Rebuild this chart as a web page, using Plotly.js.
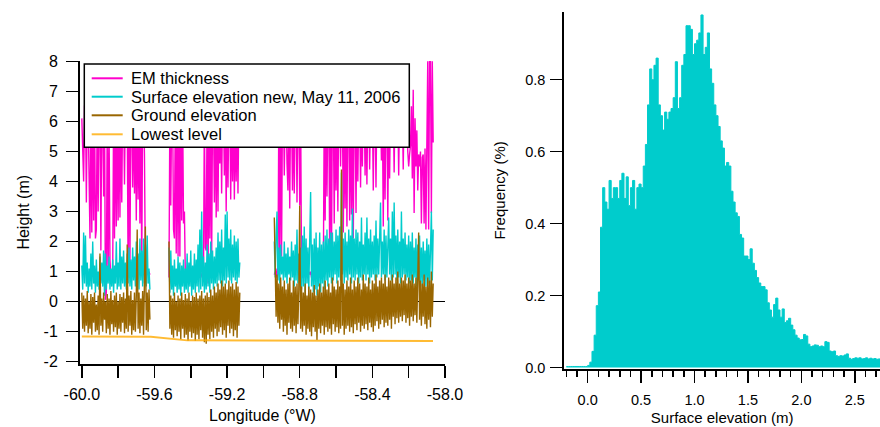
<!DOCTYPE html>
<html>
<head>
<meta charset="utf-8">
<script src="https://cdn.plot.ly/plotly-3.0.1.min.js"></script>
<style>
html,body{margin:0;padding:0;background:#fff;}
#chart{width:880px;height:427px;}
</style>
</head>
<body>
<div id="chart"></div>
<script>
// ---------------- DATA ----------------
// Along-track samples: three flight segments, regular longitude sampling
const segmentStartLon = [-60.0, -59.52, -58.94];
const sampleStepLon = 0.005;

// EM thickness (m)
const emThicknessSeg1 = [
  6.1,5.2,4.0,6.5,6.8,3.3,6.6,6.2,4.4,2.1,
  6.7,2.3,6.5,2.7,6.9,2.1,2.4,6.6,3.0,6.4,
  6.8,1.7,6.5,6.2,3.5,6.6,0.06,0.3,6.3,0.7,
  5.9,1.4,0.8,0.9,0.8,6.4,2.1,6.7,2.5,6.5,
  2.7,6.8,2.8,6.4,3.3,6.7,6.5,3.9,6.6,6.2,
  6.4,0.8,6.5,1.2,6.7,6.3,3.8,6.6,3.6,6.4,
  2.7,6.8,3.4,6.5,2.6,6.6,1.1,6.4,6.7,4.9,
  1.0,0.9,1.0,0.9,1.0,0.9
];
const emThicknessSeg2 = [
  0.8,6.5,3.2,6.7,6.4,2.4,2.1,6.6,1.6,6.5,
  1.5,6.8,1.5,6.4,2.7,6.6,2.6,3.0,0.9,0.8,
  0.7,0.9,0.8,1.0,0.7,0.9,0.8,1.0,0.9,0.8,
  0.9,1.0,0.8,0.9,1.0,0.8,0.9,1.0,0.8,6.5,
  1.8,1.7,6.6,0.6,6.4,2.1,6.7,1.3,6.5,6.3,
  3.3,6.6,2.8,6.4,3.0,6.8,4.6,6.5,3.6,6.6,
  6.4,4.2,6.7,3.0,6.5,3.8,6.6,6.4,3.4,6.5,
  4.0,6.7,3.4,6.4,4.0,6.6,3.6,6.5,5.2
];
const emThicknessSeg3 = [
  0.9,1.0,0.8,1.1,0.9,6.4,1.4,6.6,1.5,6.5,
  6.7,4.2,6.4,6.6,4.6,3.7,6.5,3.1,6.7,6.4,
  3.7,6.6,3.6,6.5,6.8,3.3,6.4,6.6,3.2,6.5,
  1.0,0.8,0.9,1.1,0.8,1.0,0.9,0.8,1.0,0.9,
  1.0,0.8,0.9,1.0,0.8,0.9,1.1,0.8,1.0,0.9,
  0.8,1.0,0.9,1.0,0.9,6.5,2.7,6.7,3.5,6.4,
  6.6,1.45,6.5,1.5,6.7,6.4,2.6,6.6,3.7,6.5,
  3.0,6.8,6.4,4.5,6.6,6.5,2.3,6.7,3.1,6.4,
  2.5,6.6,6.5,2.7,6.7,2.9,6.4,2.1,6.6,6.5,
  2.95,6.7,4.0,6.4,6.6,3.8,6.5,4.5,6.7,6.4,
  4.2,6.6,3.9,6.5,6.7,4.4,6.4,6.6,6.5,3.7,
  6.7,6.4,3.8,6.6,6.5,6.7,6.4,6.6,4.7,6.5,
  2.5,6.7,3.4,6.4,6.6,2.7,6.5,4.1,6.7,6.4,
  6.6,6.5,4.3,6.7,6.4,6.6,6.5,4.2,6.7,6.4,
  6.6,6.5,4.4,6.7,6.4,6.6,6.2,5.0,4.5,4.9,
  5.2,6.5,4.1,7.05,2.95,6.1,4.5,5.7,3.7,4.9,
  4.5,5.0,2.6,4.8,4.9,2.6,5.1,2.4,4.9,8.0,
  2.4,8.0,8.0,2.95,8.0,5.3
];

// Surface elevation new, May 11, 2006 (m)
const surfaceElevSeg1 = [
  1.2,0.4,2.3,0.6,2.2,0.5,1.3,0.3,1.1,0.5,
  1.6,0.4,2.0,0.6,1.2,0.3,1.4,0.5,1.0,0.4,
  1.5,0.6,1.3,0.5,1.7,0.2,1.6,0.4,1.2,0.6,
  1.5,0.4,1.1,0.5,1.4,0.3,1.2,0.6,2.0,0.4,
  1.3,0.5,2.1,0.4,1.5,0.6,1.7,0.5,1.3,0.4,
  1.6,0.6,1.8,0.5,1.4,0.4,1.8,0.7,1.5,0.5,
  2.0,0.6,1.6,0.4,2.1,0.7,1.7,0.5,2.1,0.6,
  1.9,0.5,2.2,0.6,1.1,0.4
];
const surfaceElevSeg2 = [
  1.8,0.3,1.7,0.4,1.2,0.2,1.4,0.5,1.1,0.3,
  1.5,0.4,1.3,0.2,1.2,0.5,1.4,0.3,1.1,0.4,
  1.6,0.3,1.3,0.5,1.7,0.2,1.2,0.4,1.6,0.3,
  1.4,0.5,1.9,0.3,2.4,0.4,3.0,0.5,1.5,0.3,
  1.3,0.4,1.9,0.5,1.6,0.3,2.0,0.6,1.7,0.4,
  1.5,0.6,1.8,0.5,2.3,0.7,2.0,0.6,2.4,0.5,
  1.8,0.7,2.9,0.6,3.0,0.8,2.1,0.7,2.4,0.6,
  1.9,0.8,2.2,0.7,2.0,0.6,2.1,0.8,1.3
];
const surfaceElevSeg3 = [
  2.0,0.8,2.2,3.0,0.7,1.8,0.6,1.9,0.9,1.5,
  0.7,2.0,0.8,1.6,0.6,1.8,0.9,1.5,0.7,2.0,
  0.8,1.7,0.5,1.9,0.7,2.4,0.6,1.6,0.8,1.8,
  0.4,2.2,0.5,2.5,0.3,2.1,0.6,1.8,0.4,2.3,
  3.65,0.5,1.9,0.3,2.1,0.4,2.3,0.2,1.8,0.5,
  2.3,0.3,1.9,0.6,2.0,0.4,2.2,0.7,2.4,0.5,
  2.1,0.8,2.3,0.6,2.3,0.7,2.0,0.9,2.4,0.6,
  2.2,0.8,2.5,0.7,4.3,0.9,2.1,0.6,2.3,0.8,
  2.0,0.7,2.4,0.9,2.2,0.6,3.1,0.8,2.1,0.7,
  2.4,0.9,2.3,0.6,2.0,0.8,2.8,0.7,1.9,0.9,
  2.3,0.7,2.8,0.9,2.1,0.6,2.4,0.8,2.0,0.9,
  2.2,0.7,2.7,0.8,2.1,0.9,2.3,3.3,0.8,2.0,
  0.9,2.4,0.7,2.2,0.8,2.5,2.8,0.9,2.1,0.7,
  3.0,0.8,3.3,0.9,2.2,0.7,2.4,0.8,2.0,0.6,
  3.0,0.8,2.1,0.9,2.3,0.7,1.9,0.8,2.2,0.6,
  2.0,0.7,2.3,0.6,1.8,0.8,2.1,0.5,1.9,0.7,
  2.2,0.6,1.8,0.5,2.0,0.7,1.7,0.5,2.1,0.6,
  1.9,0.5,2.2,3.0,0.7,2.4
];

// Ground elevation (m)
const groundElevSeg1 = [
  0.3,-0.9,0.2,-1.0,0.1,-0.8,0.35,-1.05,0.0,-0.9,
  0.25,-1.1,0.15,-0.7,0.3,-1.0,-0.1,-0.95,0.2,-1.1,
  1.6,-0.8,0.1,-1.0,0.3,-0.6,0.0,-1.05,0.25,-0.9,
  0.1,-1.1,0.35,-0.75,0.05,-1.0,0.2,-0.85,0.3,-1.1,
  0.0,-0.9,0.25,-1.0,0.15,-0.7,0.3,-1.05,0.1,-0.9,
  1.9,-1.0,0.2,-0.8,0.35,-1.1,0.05,-0.95,0.3,-1.0,
  0.2,2.4,-0.9,0.3,-1.05,0.1,-0.8,0.35,-1.1,0.2,
  2.5,-0.95,0.3,-1.0,0.4,-0.6
];
const groundElevSeg2 = [
  2.0,-0.9,0.2,-1.1,0.1,-1.2,0.3,-0.95,0.0,-1.15,
  0.2,-1.0,0.1,-1.25,0.3,-0.9,0.05,-1.2,0.25,-1.1,
  0.1,-1.3,0.3,-1.0,0.0,-1.2,0.2,-1.05,0.15,-1.3,
  0.3,-1.1,0.1,-1.25,0.2,-0.95,0.35,-1.2,0.1,-1.35,
  0.2,-1.4,0.3,-1.1,0.15,-1.25,0.4,-1.0,0.2,-1.2,
  0.5,-0.9,0.3,-1.15,0.6,-1.0,0.4,-0.85,0.7,-1.1,
  0.5,-0.95,0.6,-1.2,0.4,-0.8,0.7,-1.05,0.5,-0.9,
  0.6,-1.15,0.4,-0.95,0.65,-1.2,0.5,-0.8,0.3
];
const groundElevSeg3 = [
  2.8,1.2,-0.5,0.9,-0.7,0.6,-0.9,0.8,-0.6,0.5,
  -1.0,0.7,-0.8,0.4,-1.1,0.6,-0.7,0.8,-0.9,0.3,
  -1.0,0.7,-0.8,0.5,-1.05,0.6,-0.75,0.4,3.2,-0.9,
  0.5,-1.0,0.3,-0.8,0.6,-1.1,0.2,-0.9,0.5,-1.0,
  0.4,-1.15,0.3,-0.85,0.55,-1.0,0.2,-1.28,0.4,-0.9,
  0.6,-1.05,0.3,-0.8,0.5,-1.1,0.7,-0.85,0.4,-1.0,
  0.6,-0.9,0.3,-1.1,0.8,-0.75,0.5,-1.0,0.4,-0.85,
  0.7,-1.05,0.5,-0.9,4.4,-0.8,0.6,-1.1,0.4,-0.9,
  0.7,-0.8,0.5,-1.0,0.8,-0.85,0.4,-1.05,0.7,-0.75,
  0.5,-0.95,0.8,-0.7,0.6,-1.0,0.4,-0.8,0.9,-0.9,
  0.6,-0.75,0.5,-0.95,0.8,-0.7,0.4,-0.85,0.7,-1.0,
  0.6,-0.8,0.9,-0.65,0.5,-0.9,0.7,-0.75,0.8,-0.6,
  0.6,-0.85,0.9,-0.7,0.5,-0.8,0.8,-0.6,0.7,-0.9,
  0.9,-0.5,0.6,-0.75,0.8,-0.55,1.0,-0.7,0.6,-0.5,
  0.8,-0.65,0.7,-0.45,0.9,-0.7,0.6,-0.55,0.8,-0.8,
  0.7,-0.5,0.9,-0.65,0.6,-0.45,0.8,-0.7,0.5,2.3,
  -0.6,0.7,-0.8,0.6,-0.5,0.9,-0.75,0.5,-0.9,0.8,
  -0.6,0.7,-0.85,1.0,-0.5,0.6
];

// Lowest level (m)
const lowestLevelLon = [-60.0, -59.62, -59.42, -58.066];
const lowestLevel    = [-1.16, -1.17, -1.29, -1.31];

// Histogram of surface elevation: bins of 0.02 m starting at -0.2 m, frequency (%)
const histBinStart = -0.2;
const histBinWidth = 0.02;
const surfaceElevFreq = [
  0.003,0.003,0.003,0.003,0.003,0.003,0.003,0.003,0.003,0.003,
  0.006,0.015,0.045,0.09,0.172,0.21,0.39,0.50,0.46,0.44,
  0.52,0.47,0.50,0.50,0.47,0.52,0.54,0.47,0.53,0.45,
  0.50,0.52,0.44,0.50,0.51,0.50,0.56,0.62,0.73,0.83,
  0.80,0.84,0.86,0.73,0.70,0.66,0.71,0.69,0.71,0.72,
  0.75,0.85,0.72,0.75,0.84,0.87,0.95,0.95,0.94,0.87,
  0.90,0.91,0.93,0.98,0.87,0.89,0.93,0.83,0.79,0.73,
  0.70,0.67,0.63,0.61,0.56,0.57,0.56,0.49,0.46,0.43,
  0.42,0.37,0.36,0.31,0.31,0.30,0.33,0.29,0.27,0.25,
  0.235,0.225,0.225,0.216,0.18,0.16,0.14,0.175,0.193,0.16,
  0.14,0.163,0.125,0.13,0.137,0.118,0.105,0.09,0.082,0.077,
  0.078,0.092,0.088,0.065,0.058,0.06,0.063,0.062,0.058,0.06,
  0.058,0.072,0.07,0.046,0.044,0.046,0.033,0.031,0.033,0.032,
  0.035,0.038,0.026,0.023,0.025,0.027,0.026,0.027,0.024,0.025,
  0.027,0.024,0.026,0.024,0.025,0.023,0.024,0.022
];

// Tick labels
const lonTickVals = [-60.0,-59.8,-59.6,-59.4,-59.2,-59.0,-58.8,-58.6,-58.4,-58.2,-58.0];
const lonTickText = ['-60.0','','-59.6','','-59.2','','-58.8','','-58.4','','-58.0'];
const heightTickVals = [-2,-1,0,1,2,3,4,5,6,7,8];
const heightTickText = ['-2','-1','0','1','2','3','4','5','6','7','8'];
const elevTickVals = [0,0.5,1.0,1.5,2.0,2.5];
const elevTickText = ['0.0','0.5','1.0','1.5','2.0','2.5'];
const freqTickVals = [0,0.2,0.4,0.6,0.8];
const freqTickText = ['0.0','0.2','0.4','0.6','0.8'];

// ---------------- CHART ----------------
const FONT = 'Liberation Sans, Arial, Helvetica, sans-serif';
const series = [
  {name:'EM thickness', color:'#FF00CC', segs:[emThicknessSeg1, emThicknessSeg2, emThicknessSeg3]},
  {name:'Surface elevation new, May 11, 2006', color:'#00CCCC', segs:[surfaceElevSeg1, surfaceElevSeg2, surfaceElevSeg3]},
  {name:'Ground elevation', color:'#996600', segs:[groundElevSeg1, groundElevSeg2, groundElevSeg3]},
  {name:'Lowest level', color:'rgba(255,170,0,0.8)', segs:[]}
];
const traces = [];
series.forEach(s => {
  s.segs.forEach((vals, k) => {
    traces.push({
      type:'scatter', mode:'lines',
      x0: segmentStartLon[k], dx: sampleStepLon, y: vals,
      name: s.name, legendgroup: s.name, showlegend:false,
      line:{color:s.color, width:1.4},
      xaxis:'x', yaxis:'y', hoverinfo:'skip'
    });
  });
});
traces.push({
  type:'scatter', mode:'lines', x: lowestLevelLon, y: lowestLevel,
  name:'Lowest level', showlegend:false, line:{color:'rgba(255,170,0,0.8)', width:2},
  xaxis:'x', yaxis:'y', hoverinfo:'skip'
});
traces.push({
  type:'scatter', mode:'lines', x0: histBinStart, dx: histBinWidth, y: surfaceElevFreq,
  line:{shape:'hv', color:'#00CCCC', width:1}, fill:'tozeroy', fillcolor:'#00CCCC',
  xaxis:'x2', yaxis:'y2', showlegend:false, hoverinfo:'skip'
});

// Legend box (boxed key in the upper-left of the left panel), paper coordinates
const W = 880, H = 427;
const px = v => v / W, py = v => 1 - v / H;
const legBox = {x0:84.3, x1:409.3, y0:64, y1:147.3};
const legRowY = [78.3, 96.7, 115.3, 134.3];
const shapes = [{
  type:'rect', xref:'paper', yref:'paper', layer:'above',
  x0:px(legBox.x0), x1:px(legBox.x1), y0:py(legBox.y1), y1:py(legBox.y0),
  fillcolor:'#fff', line:{color:'#000', width:1.5}
}];
const annotations = [];
series.forEach((s, k) => {
  shapes.push({
    type:'line', xref:'paper', yref:'paper', layer:'above',
    x0:px(91.7), x1:px(122.7), y0:py(legRowY[k]), y1:py(legRowY[k]),
    line:{color:s.color, width:2}
  });
  annotations.push({
    xref:'paper', yref:'paper', x:px(128.5), y:py(legRowY[k]),
    xanchor:'left', yanchor:'middle', showarrow:false, text:s.name,
    font:{family:FONT, size:16.5, color:'#000'}
  });
});

const axisBase = {
  showgrid:false, zeroline:false, showline:true, linecolor:'#000', linewidth:2,
  ticks:'outside', tickcolor:'#000', tickwidth:1.5, ticklen:12,
  automargin:false, fixedrange:true
};

const layout = {
  width:W, height:H,
  margin:{l:0, r:0, t:0, b:0},
  paper_bgcolor:'#fff', plot_bgcolor:'rgba(0,0,0,0)',
  font:{family:FONT, size:16, color:'#000'},
  showlegend:false,
  shapes: shapes,
  annotations: annotations,
  xaxis: Object.assign({}, axisBase, {
    domain:[0.09091, 0.50568], range:[-60.01, -58.0], anchor:'y',
    tickmode:'array', tickvals:lonTickVals, ticktext:lonTickText,
    tickfont:{size:16}, ticklabelstandoff:3,
    title:{text:'Longitude (°W)', font:{size:16}, standoff:8}
  }),
  yaxis: Object.assign({}, axisBase, {
    domain:[0.14871, 0.85714], range:[-2.06, 8.01], anchor:'x',
    tickmode:'array', tickvals:heightTickVals, ticktext:heightTickText,
    tickfont:{size:16}, ticklabelstandoff:5,
    zeroline:true, zerolinecolor:'#000', zerolinewidth:1.5,
    title:{text:'Height (m)', font:{size:16}, standoff:10}
  }),
  xaxis2: Object.assign({}, axisBase, {
    domain:[0.64125, 1.0], range:[-0.219, 2.736], anchor:'y2',
    tickmode:'array', tickvals:elevTickVals, ticktext:elevTickText,
    tickfont:{size:14.5}, ticklabelstandoff:5,
    minor:{dtick:0.1, tick0:0, ticks:'outside', ticklen:6, tickwidth:1.5, tickcolor:'#000'},
    title:{text:'Surface elevation (m)', font:{size:15}, standoff:5}
  }),
  yaxis2: Object.assign({}, axisBase, {
    domain:[0.13583, 0.9726], range:[-0.004, 0.989], anchor:'x2',
    tickmode:'array', tickvals:freqTickVals, ticktext:freqTickText,
    tickfont:{size:14.5}, ticklabelstandoff:2,
    title:{text:'Frequency (%)', font:{size:15}, standoff:16}
  })
};

Plotly.newPlot('chart', traces, layout, {displayModeBar:false, staticPlot:true});
</script>
</body>
</html>
